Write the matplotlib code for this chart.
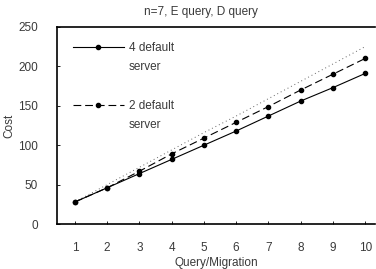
import matplotlib
matplotlib.use("Agg")
import matplotlib.pyplot as plt
from matplotlib.lines import Line2D

# values
queries = [1, 2, 3, 4, 5, 6, 7, 8, 9, 10]
cost_4_default = [28, 46, 64, 82, 100, 118, 137, 156, 173, 191]
cost_2_default = [28, 46, 67, 89, 109, 129, 149, 170, 190, 210]
cost_other = [28, 50, 72, 94, 116, 137, 159, 181, 203, 225]
y_ticks = [0, 50, 100, 150, 200, 250]

plt.rcParams['font.family'] = ['Liberation Sans', 'DejaVu Sans']
txt = '#3a3a3a'

fig = plt.figure(figsize=(3.76, 2.69), dpi=100)
ax = fig.add_axes([0.152, 0.167, 0.845, 0.733])

ax.plot(queries, cost_other, color='#666666', lw=0.7, ls=(0, (1, 3)))
ax.plot(queries, cost_2_default, color='black', lw=0.8, ls=(0, (7, 3.5)),
        marker='o', ms=3)
ax.plot(queries, cost_4_default, color='black', lw=0.8, marker='o', ms=3)

ax.set_xlim(0.45, 10.3)
ax.set_ylim(0, 250)
ax.set_xticks(queries)
ax.set_yticks(y_ticks)
ax.tick_params(direction='in', length=2.5, width=0.6, labelsize=8.5,
               labelcolor=txt)
ax.tick_params(axis='x', pad=13)
ax.tick_params(axis='y', pad=14)
for s in ['left', 'bottom', 'top']:
    ax.spines[s].set_linewidth(1.2)
ax.spines['right'].set_visible(False)

ax.set_xlabel('Query/Migration', fontsize=8.5, color=txt, labelpad=2)
ax.set_ylabel('Cost', fontsize=8.5, color=txt, labelpad=2)
fig.text(0.535, 0.955, 'n=7, E query, D query', ha='center', va='center',
         fontsize=8.5, color=txt)

blank = Line2D([], [], color='none')
handles = [
    Line2D([], [], color='black', lw=0.8, marker='o', ms=3),
    blank, blank,
    Line2D([], [], color='black', lw=0.8, ls=(0, (7, 3.5)), marker='o', ms=3),
    blank,
]
labels = ['4 default', 'server', '', '2 default', 'server']
ax.legend(handles, labels, loc='upper left', bbox_to_anchor=(0.05, 0.925),
          frameon=False, fontsize=8.5, labelcolor=txt, handlelength=4.3,
          handletextpad=0.4, labelspacing=0.62, borderpad=0, borderaxespad=0)

fig.savefig('out.png', dpi=100)
